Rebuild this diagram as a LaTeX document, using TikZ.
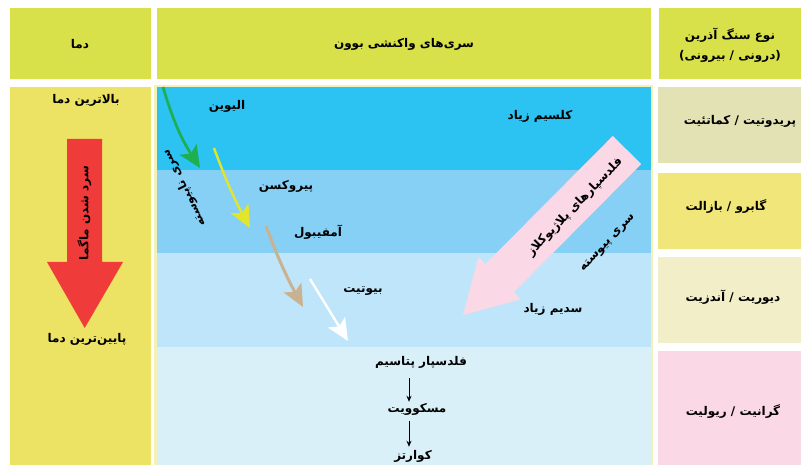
\documentclass[tikz,border=0pt]{standalone}
\usepackage{fontspec}
\usetikzlibrary{arrows.meta}
\newfontfamily\arabicfont[Script=Arabic]{DejaVu Sans}
\newfontfamily\latinfont{DejaVu Sans}
\TeXXeTstate=1
\newcommand\fatxt[1]{\beginR #1\endR}
\definecolor{hdrc}{HTML}{D9E14A}
\definecolor{leftc}{HTML}{ECE264}
\definecolor{bandA}{HTML}{2CC2F2}
\definecolor{bandB}{HTML}{86D0F5}
\definecolor{bandC}{HTML}{BEE5F9}
\definecolor{bandD}{HTML}{DAF0F9}
\definecolor{rA}{HTML}{E3E2B4}
\definecolor{rB}{HTML}{F0E67A}
\definecolor{rC}{HTML}{F1EEC8}
\definecolor{rD}{HTML}{FAD8E6}
\definecolor{redc}{HTML}{EF3B39}
\definecolor{greenc}{HTML}{1EAF50}
\definecolor{yellowc}{HTML}{E1E62D}
\definecolor{tanc}{HTML}{C8B291}
\definecolor{pinkc}{HTML}{FAD8E6}
\definecolor{palec}{HTML}{F4F1B8}
\begin{document}
\begin{tikzpicture}[x=1pt,y=-1pt,
  lbl/.style={font=\arabicfont\bfseries\fontsize{12}{20}\selectfont, inner sep=0pt, text=black},
  colarrow/.style={line width=2.7pt, -{Stealth[length=22pt,width=20pt,inset=5pt]}},
  blk/.style={line width=0.8pt, -{Stealth[length=6pt,width=5pt]}}
]
\useasboundingbox (0,0) rectangle (801,465);
% header cells
\fill[hdrc] (10,8.5) rectangle (151,79.5);
\fill[hdrc] (157,8.5) rectangle (651,79.5);
\fill[hdrc] (659,8.5) rectangle (812,79.5);
% body cells
\fill[leftc] (10,87) rectangle (151,470);
\fill[palec] (153.5,85) rectangle (653,470);
\fill[bandA] (157,87) rectangle (651,170);
\fill[bandB] (157,170) rectangle (651,253);
\fill[bandC] (157,253) rectangle (651,346.5);
\fill[bandD] (157,346.5) rectangle (651,470);
\fill[rA] (658,87) rectangle (812,162.7);
\fill[rB] (658,172.7) rectangle (812,249);
\fill[rC] (658,256.7) rectangle (812,343.3);
\fill[rD] (658,350.7) rectangle (812,470);
% red arrow
\fill[redc] (67,139) -- (102,139) -- (102,262) -- (123,262) -- (84.7,328) -- (47,262) -- (67,262) -- cycle;
% pink arrow
\fill[pinkc] (641.2,164.1) -- (513.9,292.2) -- (521,299.3) -- (463,315) -- (478.4,256.9) -- (485.5,264) -- (612.8,135.9) -- cycle;
% header texts
\node[lbl] (hT) at (80,44) {\fatxt{دما}};
\node[lbl] (hM) at (404,44) {\fatxt{سری‌های واکنشی بوون}};
\node[lbl, align=center] (hR) at (730,45) {\fatxt{نوع سنگ آذرین}\\{\latinfont\bfseries (}\fatxt{درونی / بیرونی}{\latinfont\bfseries )}};
% left column
\node[lbl] (hot) at (86,100) {\fatxt{بالاترین دما}};
\node[lbl] (cold) at (87,339) {\fatxt{پایین‌ترین دما}};
\node[lbl, rotate=90] (cool) at (84.5,213) {\fatxt{سرد شدن ماگما}};
% middle column
\node[lbl] (ol) at (227,106) {\fatxt{الیوین}};
\node[lbl] (px) at (286,186) {\fatxt{پیروکسن}};
\node[lbl] (am) at (318,232) {\fatxt{آمفیبول}};
\node[lbl] (bi) at (363,291) {\fatxt{بیوتیت}};
\node[lbl] (ca) at (540,116) {\fatxt{کلسیم زیاد}};
\node[lbl] (na) at (553,309) {\fatxt{سدیم زیاد}};
\node[lbl] (kf) at (421,362) {\fatxt{فلدسپار پتاسیم}};
\node[lbl] (ms) at (417,409) {\fatxt{مسکوویت}};
\node[lbl] (qz) at (413,456) {\fatxt{کوارتز}};
\node[lbl, rotate=116] (disc) at (184,188) {\fatxt{سری ناپیوسته}};
\node[lbl, rotate=46] (plag) at (575,207) {\fatxt{فلدسپارهای پلاژیوکلاز}};
\node[lbl, rotate=47] (cont) at (608,243) {\fatxt{سری پیوسته}};
% right column
\node[lbl] (r1) at (740,121) {\fatxt{پریدوتیت / کماتئیت}};
\node[lbl] (r2) at (726,207) {\fatxt{گابرو / بازالت}};
\node[lbl] (r3) at (733,297) {\fatxt{دیوریت / آندزیت}};
\node[lbl] (r4) at (733,412) {\fatxt{گرانیت / ریولیت}};
% coloured arrows
\coordinate (g1) at (163,87);  \coordinate (g2) at (200,168);
\coordinate (y1) at (214,148); \coordinate (y2) at (250,228);
\coordinate (t1) at (266,226); \coordinate (t2) at (303,307);
\coordinate (w1) at (310,279); \coordinate (w2) at (348,341);
\draw[colarrow, greenc] (g1) to[bend right=8] (g2);
\draw[colarrow, yellowc, line width=2.4pt] (y1) to[bend right=4] (y2);
\draw[colarrow, tanc, line width=3pt] (t1) to[bend right=4] (t2);
\draw[colarrow, white, line width=2.4pt] (w1) -- (w2);
% black arrows
\coordinate (ax) at (409,0);
\draw[blk, shorten <=10pt, shorten >=1pt] (kf.south -| ax) -- (ms.north -| ax);
\draw[blk, shorten <=6pt, shorten >=3pt] (ms.south -| ax) -- (qz.north -| ax);
\end{tikzpicture}
\end{document}
